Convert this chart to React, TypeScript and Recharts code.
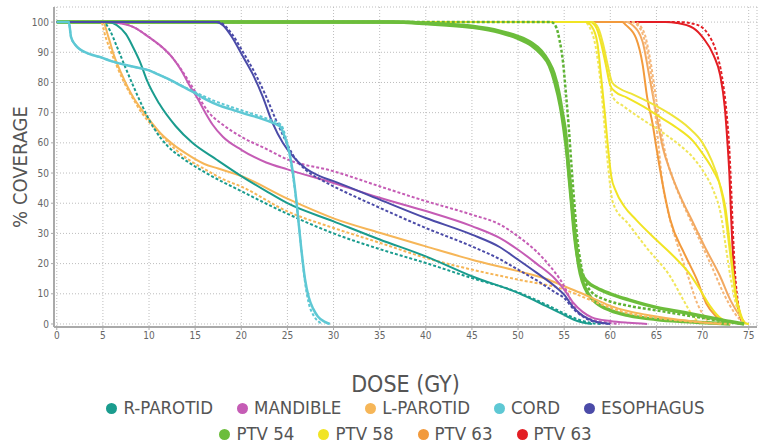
import React from 'react';
import { LineChart, Line, XAxis, YAxis, CartesianGrid, Legend, Label } from 'recharts';

type P = [number, number];

// ---- tick labels ----
const doseTicks = [0, 5, 10, 15, 20, 25, 30, 35, 40, 45, 50, 55, 60, 65, 70, 75];
const coverageTicks = [0, 10, 20, 30, 40, 50, 60, 70, 80, 90, 100];

// ---- legend ----
const legendRow1 = ['R-PAROTID', 'MANDIBLE', 'L-PAROTID', 'CORD', 'ESOPHAGUS'];
const legendRow1Colors = ['#1a9c8e', '#c55cb5', '#f6b658', '#5ec8d4', '#4b4ba8'];
const legendRow2 = ['PTV 54', 'PTV 58', 'PTV 63', 'PTV 63'];
const legendRow2Colors = ['#6cbd3b', '#f1e424', '#f29a3c', '#e31e24'];

// ---- series (dose Gy, % coverage) ----
const rParotidSolid: P[] = [[0,100],[5.6,100],[6.5,99],[7.5,96],[8.3,91.5],[9,87],[9.8,80.5],[11.1,73],[12.9,65.5],[14.7,60],[17.3,54.5],[20,49],[22.7,44],[25,40],[30,34],[35,28],[40,22.4],[45,15.8],[50,10.3],[53,6],[55,3],[56,1.5],[57,0.5],[58,0]];
const rParotidDashed: P[] = [[0,100],[5,100],[5.8,97],[6.5,92],[7.3,86],[8.2,79.5],[9.3,72],[10.5,65],[12,59],[13.6,55],[16.2,50],[20,44],[25,36.5],[30,30],[35,24.8],[40,20.2],[45,15.2],[50,10.5],[53,6.5],[55,3.5],[56.5,1.5],[58,0.3],[59,0]];
const lParotidSolid: P[] = [[0,100],[5,100],[5.6,95],[6.2,89],[7,83],[7.6,79],[8.4,74.5],[9.2,71],[10.2,67],[11.3,63],[12.6,59.5],[14,56.5],[16,53],[17.5,51.5],[20,49],[25,41.5],[30,35],[35,30.2],[40,25.7],[45,21.3],[50,17.5],[53,15],[55,12.5],[57,10],[58.5,8],[60,6],[62,4.2],[64,3],[66,2],[68,1.2],[70,0.5],[72,0]];
const lParotidDashed: P[] = [[0,100],[4.8,100],[5.3,95],[5.9,90],[6.5,85.5],[7.3,80],[8.2,75],[9.2,70],[10.4,65.5],[11.5,62],[12.9,57.7],[14.5,54],[16.2,51],[18,48],[20,45.5],[25,37.3],[30,31.8],[35,26.9],[40,21.9],[45,18],[50,14.7],[55,11.4],[57,9],[59,6.5],[62,3.5],[65,2],[68,1],[71,0.3],[73,0]];
const mandibleSolid: P[] = [[0,100],[6,100],[7,99.5],[8.2,98.5],[10,95],[11.5,91.5],[12.6,88],[13.5,84],[14.3,79.5],[15.3,74.5],[16.1,70],[16.9,66],[18,62],[20,57.7],[22.7,53.5],[25,51.2],[30,46.7],[35,41.8],[40,37.4],[45,32.4],[48,28.5],[50,24.6],[52,20],[54,15],[55,11.4],[56,7],[57,4],[58,2.2],[60,1],[62,0.4],[64,0]];
const mandibleDashed: P[] = [[0,100],[6,100],[8.2,98.5],[10,95],[12.6,88],[14.3,80.5],[15.5,74.5],[16.5,70],[18,66],[20,62],[22.7,58],[25,54.5],[30,50.6],[35,45.6],[40,40.7],[45,36.2],[48,33],[50,29],[52,24],[53.5,19],[54.5,15],[55,12.5],[55.7,8],[56.5,4],[57.5,2],[59,0.8],[61,0]];
const esophagusSolid: P[] = [[0,100],[17.3,100],[18,99],[19,95],[20.1,89],[21.2,83],[22.3,75.5],[23.4,66.5],[24.5,60],[25.6,55.5],[27,51.5],[28.5,49],[30,47.3],[35,41.2],[40,35.1],[45,29.6],[48,25.5],[50,21.3],[52,17],[54,12.5],[55,9.7],[56,5.5],[57,2.8],[58,1.2],[59,0.4],[60,0]];
const esophagusDashed: P[] = [[0,100],[17.5,100],[19,96],[20.2,90],[21.5,83],[22.6,76],[23.7,68],[24.6,62],[25.6,56],[27,51],[28.5,48],[30,45.6],[35,38.5],[40,31.8],[45,25.7],[48,21.5],[50,18],[52,14.5],[54,10.5],[55,8.6],[56,5],[57,2.5],[58,1],[59,0.3],[60,0]];
const cordSolid: P[] = [[0,100],[1.3,100],[1.55,95],[2,92.5],[2.5,91],[3.5,89.5],[4.6,88.5],[6,87],[8.2,85.3],[10,84],[11.1,82.5],[12.5,80.5],[13.6,78.7],[15,76.5],[16.2,74.3],[17.5,72.5],[19,71],[20.5,69.5],[22,68.2],[23.5,66.5],[24.2,65.5],[24.7,62],[25.2,57],[25.6,50],[26,40],[26.5,25],[26.9,15],[27.3,9],[27.8,5],[28.3,2.5],[29,0.8],[29.6,0]];
const cordDashed: P[] = [[0,100],[1.3,100],[1.55,95],[2,92.5],[2.5,91],[3.5,89.5],[4.6,88.5],[6,87],[8.2,85.3],[10,84],[12.5,80.5],[15,76.8],[17,74],[19,71.8],[21,69.8],[23,67.8],[24.3,66],[24.8,62],[25.3,55],[25.7,47],[26.1,37],[26.5,25],[26.9,14],[27.3,7],[27.8,3],[28.3,1],[28.8,0]];
const ptv54SolidA: P[] = [[0,100],[36,100],[40,99.6],[45,98.6],[48,97],[50,95.2],[51.5,93],[52.5,90.5],[53.3,87],[53.9,83],[54.4,77],[54.8,70],[55.2,62],[55.5,50],[55.8,40],[56.1,30],[56.4,23],[56.8,17.5],[57.5,14],[58.5,12],[60,10],[62,8],[65,5.5],[68,3.8],[71,2],[73,0.8],[74.5,0]];
const ptv54SolidB: P[] = [[0,100],[36.5,100],[40,99.5],[45,98.3],[48,96.6],[50,94.6],[51.5,92.2],[52.5,89.5],[53.4,85.5],[54,80],[54.6,72],[55,64],[55.4,54],[55.7,45],[56,35],[56.3,26],[56.6,19],[57,14],[57.6,10],[58.5,7],[60,4.5],[62,2.8],[65,1.5],[68,0.8],[71,0.3],[73,0]];
const ptv54Dashed: P[] = [[0,100],[53.6,100],[54.1,98.5],[54.5,94],[54.9,86],[55.2,76],[55.5,65],[55.8,52],[56.1,40],[56.4,29],[56.8,20],[57.3,14],[58,10.5],[59.5,8],[62,6],[65,4.5],[68,3],[71,1.5],[73,0.5],[74.5,0]];
const ptv58SteepSolid: P[] = [[0,100],[57.3,100],[58,98.5],[58.6,93],[59,82],[59.4,70],[59.8,57],[60.1,49],[60.6,44],[61.5,39],[62.8,34.5],[65,27.8],[67,22],[68.5,17],[69.8,11],[70.8,6],[71.8,2.3],[73,0]];
const ptv58SteepDashed: P[] = [[0,100],[57.2,100],[57.8,98],[58.4,92],[58.9,81],[59.3,68],[59.7,54],[60.3,40],[62,33],[64,25],[66.5,15.7],[68,7.5],[69,2.4],[70,0]];
const ptv58PlateauSolidA: P[] = [[0,100],[57.8,100],[58.5,98],[59,93],[59.5,86],[60,79],[60.5,77],[61.8,75],[63.6,72],[65.4,68.5],[67.2,65],[69,60.5],[70.1,56],[71.2,50.6],[72,45],[72.5,38],[72.9,28],[73.2,20],[73.6,10],[74.1,3.5],[74.6,0.3],[75,0]];
const ptv58PlateauSolidB: P[] = [[0,100],[58,100],[58.7,98],[59.2,93],[59.7,86],[60.2,80],[61,78],[62.5,76],[64.5,73],[66.5,69.5],[68.5,65],[70,60],[71,54],[71.8,47],[72.4,38],[72.8,28],[73.2,18],[73.6,9],[74.1,3],[74.6,0.3],[75,0]];
const ptv58PlateauDashed: P[] = [[0,100],[58,100],[58.7,97],[59.3,90],[59.8,82],[60.3,75],[61.5,72],[63.6,67.5],[65.4,64],[67.2,60],[69,55],[70.2,50],[71.2,44],[72,36],[72.5,26],[73,16],[73.5,8],[74,3],[74.6,0]];
const ptv63OrangeSolidA: P[] = [[0,100],[61.3,100],[61.7,99],[62.8,94.6],[63.5,86],[64,75],[64.6,66],[65,58.3],[65.4,51],[65.8,44.3],[66.5,34.5],[68,23.5],[69.4,14.6],[70.4,6.8],[71.5,2.4],[72.6,0]];
const ptv63OrangeSolidB: P[] = [[0,100],[61.8,100],[62.4,99],[63.5,93.5],[64.2,82.5],[65,69.3],[65.7,58.3],[66.5,50.6],[67.6,42.2],[69,33.4],[70.4,24.6],[71.9,15.8],[73,8],[74.1,2.4],[74.7,0]];
const ptv63OrangeDashedA: P[] = [[0,100],[62.3,100],[63.2,98],[63.8,93],[64.4,83],[64.8,72],[65.2,60],[65.6,48],[66.2,38],[67.2,27],[68.3,17],[69.4,7],[70.3,2],[71,0]];
const ptv63OrangeDashedB: P[] = [[0,100],[62.6,100],[63.6,97],[64.3,88],[64.9,76],[65.4,66],[66,56],[66.8,48],[68,39],[69.5,29],[71,19],[72.3,10],[73.5,3.5],[74.5,0]];
const ptv63RedSolid: P[] = [[0,100],[66,100],[67.2,99.7],[69,98],[70.1,94.6],[71.2,89],[71.9,82.5],[72.4,72],[72.7,60],[72.9,50],[73.1,35],[73.3,22],[73.6,10],[74,3],[74.5,0]];
const ptv63RedDashed: P[] = [[0,100],[67.5,100],[69.5,99],[70.6,96],[71.5,90],[72.1,82],[72.6,70],[72.9,58],[73.1,45],[73.3,30],[73.5,18],[73.8,8],[74.2,2],[74.6,0]];

const pts = (a: P[]) => a.map(([dose, pct]) => ({ dose, pct }));

const FONT = "'Liberation Sans Narrow', 'DejaVu Sans Condensed', 'Liberation Sans', sans-serif";

type S = { key: string; data: P[]; color: string; dashed?: boolean; width?: number };
const series: S[] = [
  { key: 'redS', data: ptv63RedSolid, color: '#e31e24' },
  { key: 'redD', data: ptv63RedDashed, color: '#e31e24', dashed: true },
  { key: 'orDB', data: ptv63OrangeDashedB, color: '#f5b77a', dashed: true },
  { key: 'orSB', data: ptv63OrangeSolidB, color: '#f2a860' },
  { key: 'orDA', data: ptv63OrangeDashedA, color: '#f5b77a', dashed: true },
  { key: 'orSA', data: ptv63OrangeSolidA, color: '#f29a3c' },
  { key: 'ylPD', data: ptv58PlateauDashed, color: '#f1e65a', dashed: true },
  { key: 'ylPB', data: ptv58PlateauSolidB, color: '#efe43a' },
  { key: 'ylPA', data: ptv58PlateauSolidA, color: '#f1e424' },
  { key: 'ylSD', data: ptv58SteepDashed, color: '#f1e65a', dashed: true },
  { key: 'ylSS', data: ptv58SteepSolid, color: '#f1e424' },
  { key: 'grD', data: ptv54Dashed, color: '#5fb334', dashed: true, width: 2.5 },
  { key: 'grB', data: ptv54SolidB, color: '#6cbd3b', width: 3.5 },
  { key: 'grA', data: ptv54SolidA, color: '#6cbd3b', width: 3.5 },
  { key: 'lpD', data: lParotidDashed, color: '#f6b658', dashed: true },
  { key: 'lpS', data: lParotidSolid, color: '#f6b658' },
  { key: 'rpD', data: rParotidDashed, color: '#1a9c8e', dashed: true },
  { key: 'rpS', data: rParotidSolid, color: '#1a9c8e' },
  { key: 'mdD', data: mandibleDashed, color: '#c55cb5', dashed: true },
  { key: 'mdS', data: mandibleSolid, color: '#c55cb5' },
  { key: 'esD', data: esophagusDashed, color: '#4b4ba8', dashed: true },
  { key: 'esS', data: esophagusSolid, color: '#4b4ba8' },
  { key: 'cdD', data: cordDashed, color: '#5ec8d4', dashed: true },
  { key: 'cdS', data: cordSolid, color: '#5ec8d4', width: 2.5 },
];

const LegendRow = ({ names, colors }: { names: string[]; colors: string[] }) => (
  <div style={{ display: 'flex', justifyContent: 'center', alignItems: 'center', height: 26, lineHeight: '26px' }}>
    {names.map((n, i) => (
      <div key={n + i} style={{ display: 'flex', alignItems: 'center', marginLeft: i === 0 ? 0 : 24 }}>
        <span style={{ display: 'inline-block', width: 11, height: 11, borderRadius: '50%', background: colors[i], marginRight: 6 }} />
        <span style={{ fontFamily: FONT, fontSize: 18.5, color: '#555' }}>{n}</span>
      </div>
    ))}
  </div>
);

const renderLegend = () => (
  <div style={{ height: 49, overflow: 'visible' }}>
    <LegendRow names={legendRow1} colors={legendRow1Colors} />
    <LegendRow names={legendRow2} colors={legendRow2Colors} />
  </div>
);

const YTitle = (props: any) => {
  const vb = props.viewBox || { x: 0, y: 7, width: 54, height: 320 };
  const cx = vb.x + 20;
  const cy = vb.y + vb.height / 2;
  return (
    <text x={cx} y={cy} transform={`rotate(-90 ${cx} ${cy})`} textAnchor="middle" dominantBaseline="central"
      style={{ fontFamily: FONT, fontSize: 20, fill: '#555' }}>% COVERAGE</text>
  );
};

export default function App() {
  return (
    <div style={{ position: 'absolute', left: 0, top: 0, width: 759, height: 444, background: '#fff' }}>
      <LineChart width={759} height={444} margin={{ top: 7, right: 2, left: 0, bottom: 0 }}>
        <CartesianGrid stroke="#bdbdbd" strokeDasharray="1 2" />
        <XAxis dataKey="dose" type="number" domain={[-0.3, 75.9]} ticks={doseTicks} allowDataOverflow
          height={68} tickSize={3} tickMargin={2} interval={0}
          axisLine={{ stroke: '#aaa', strokeWidth: 2 }} tickLine={{ stroke: '#aaa' }}
          tick={{ fontFamily: FONT, fontSize: 10, fill: '#666' }}>
          <Label value="DOSE (GY)" position="insideBottom" offset={3}
            style={{ fontFamily: FONT, fontSize: 23, fill: '#555' }} />
        </XAxis>
        <YAxis dataKey="pct" type="number" domain={[-1, 105]} ticks={coverageTicks} allowDataOverflow
          width={54} tickSize={3} tickMargin={2} interval={0}
          axisLine={{ stroke: '#aaa', strokeWidth: 2 }} tickLine={{ stroke: '#aaa' }}
          tick={{ fontFamily: FONT, fontSize: 10, fill: '#666' }}>
          <Label content={<YTitle />} />
        </YAxis>
        <Legend verticalAlign="bottom" align="left" content={renderLegend}
          wrapperStyle={{ left: 54, width: 703, bottom: 0 }} />
        {series.map((s) => (
          <Line key={s.key} data={pts(s.data)} dataKey="pct" type="monotone" stroke={s.color}
            strokeWidth={s.width ?? 2} strokeDasharray={s.dashed ? '3 2' : undefined}
            dot={false} activeDot={false} isAnimationActive={false} legendType="none" />
        ))}
      </LineChart>
    </div>
  );
}
